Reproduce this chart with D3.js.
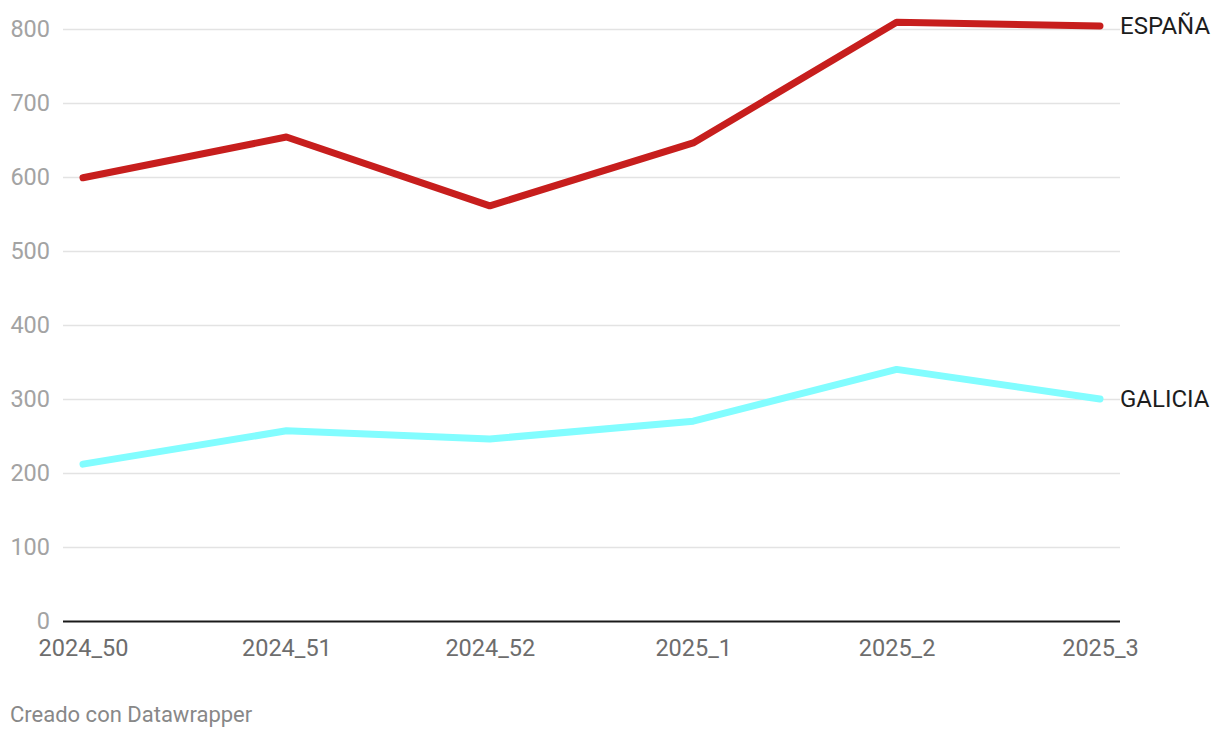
<!DOCTYPE html>
<html>
<head>
<meta charset="utf-8">
<script src="https://cdn.jsdelivr.net/npm/d3@7"></script>
<style>
  html, body { margin: 0; padding: 0; background: #fff; }
  svg { display: block; font-family: Roboto, "Noto Sans", sans-serif; }
</style>
</head>
<body>
<svg id="chart" width="1220" height="738"></svg>
<script>
const categories = ["2024_50", "2024_51", "2024_52", "2025_1", "2025_2", "2025_3"];
const espana = [599, 654, 561, 646, 809, 804];
const galicia = [212, 257, 246, 270, 340, 300];
const seriesNames = ["ESPAÑA", "GALICIA"];
const seriesColors = ["#c71e1d", "#82fdff"];
const yTicks = [0, 100, 200, 300, 400, 500, 600, 700, 800];
const footerText = "Creado con Datawrapper";

const svg = d3.select("#chart");
const plotLeft = 63, plotRight = 1120;

const x = d3.scalePoint().domain(categories).range([83, 1100]);
const y = d3.scaleLinear().domain([0, 800]).range([621, 29]);

// grid lines
const yAxis = d3.axisLeft(y).tickValues(yTicks).tickSize(-(plotRight - plotLeft)).tickPadding(13).tickFormat(d3.format("d"));
const gy = svg.append("g").attr("transform", `translate(${plotLeft},0)`).call(yAxis);
gy.select(".domain").remove();
gy.selectAll(".tick line").attr("stroke", "#e3e3e3").attr("stroke-width", 1.5)
  .filter(d => d === 0).attr("stroke", "#1a1a1a").attr("stroke-width", 2);
gy.selectAll(".tick text").attr("fill", "#a3a3a3").style("font-size", "23.5px")
  .style("font-family", "Roboto, sans-serif");

// x axis labels
const xAxis = d3.axisBottom(x).tickSize(0).tickPadding(18);
const gx = svg.append("g").attr("transform", `translate(0,621)`).call(xAxis);
gx.select(".domain").remove();
gx.selectAll(".tick text").attr("fill", "#6d6d6d").style("font-size", "23.5px")
  .style("font-family", "Roboto, sans-serif");

// lines
const series = [espana, galicia];
const line = d3.line().x((d, i) => x(categories[i])).y(d => y(d));
series.forEach((vals, k) => {
  svg.append("path")
    .datum(vals)
    .attr("d", line)
    .attr("fill", "none")
    .attr("stroke", seriesColors[k])
    .attr("stroke-width", 7)
    .attr("stroke-linejoin", "round")
    .attr("stroke-linecap", "round");
  svg.append("text")
    .attr("x", x(categories[categories.length - 1]) + 20)
    .attr("y", y(vals[vals.length - 1]))
    .attr("dy", "0.35em")
    .attr("fill", "#1d1d1d")
    .style("font-size", "24px")
    .text(seriesNames[k]);
});

// footer
svg.append("text")
  .attr("x", 10).attr("y", 722)
  .attr("fill", "#888")
  .style("font-size", "22px")
  .text(footerText);
</script>
</body>
</html>
